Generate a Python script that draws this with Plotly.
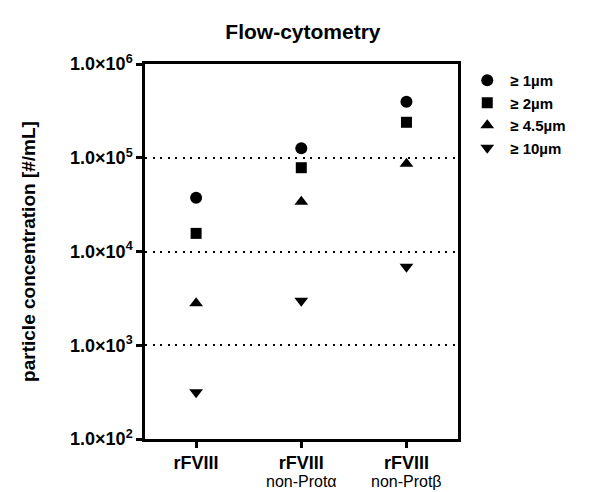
import plotly.graph_objects as go

# Samples and particle counts per size class (#/mL)
sample_names = ["rFVIII", "rFVIII", "rFVIII"]
sample_subtitles = ["", "non-Protα", "non-Protβ"]
ge_1um = [37500, 126000, 396000]
ge_2um = [15600, 78300, 239000]
ge_4_5um = [2800, 34000, 86400]
ge_10um = [315, 2990, 6890]

series = [
    ("≥ 1µm", ge_1um, "circle", 12),
    ("≥ 2µm", ge_2um, "square", 11),
    ("≥ 4.5µm", ge_4_5um, "triangle-up", 12),
    ("≥ 10µm", ge_10um, "triangle-down", 12),
]

y_ticks = [1e2, 1e3, 1e4, 1e5, 1e6]
y_ticktext = ["1.0×10<sup>2</sup>", "1.0×10<sup>3</sup>", "1.0×10<sup>4</sup>",
              "1.0×10<sup>5</sup>", "1.0×10<sup>6</sup>"]

FONT = "Liberation Sans, Arial, sans-serif"
positions = list(range(len(sample_names)))

fig = go.Figure()
for name, vals, symbol, size in series:
    fig.add_trace(go.Scatter(
        x=positions, y=vals, mode="markers", name=name,
        marker=dict(symbol=symbol, size=size, color="black", line=dict(width=0)),
    ))

# second line of each category label, placed under its tick
for pos, sub in zip(positions, sample_subtitles):
    if sub:
        fig.add_annotation(x=pos, xref="x", y=-0.113, yref="paper",
                           text=sub, showarrow=False, xanchor="center",
                           yanchor="middle", font=dict(size=16, family=FONT))

fig.update_layout(
    width=594, height=492,
    margin=dict(l=145, r=136, t=64, b=53, autoexpand=False),
    paper_bgcolor="white", plot_bgcolor="white",
    font=dict(family=FONT, color="black"),
    title=dict(text="<b>Flow-cytometry</b>", x=0.51, xanchor="center",
               y=0.935, yanchor="middle", font=dict(size=21, family=FONT)),
    showlegend=True,
    legend=dict(x=1.02, y=1.0, xanchor="left", yanchor="top",
                font=dict(size=15, family=FONT, weight="bold"),
                itemsizing="trace", tracegroupgap=0, bgcolor="rgba(0,0,0,0)",
                itemwidth=36),
)

fig.update_xaxes(
    range=[-0.486, 2.49], automargin=False,
    tickvals=positions, ticktext=[f"<b>{n}</b>" for n in sample_names],
    tickfont=dict(size=18, family=FONT),
    ticks="outside", ticklen=6, tickwidth=2.5, tickcolor="black",
    showline=True, linewidth=2.5, linecolor="black", mirror=True,
    showgrid=False, zeroline=False,
)
fig.update_yaxes(
    type="log", range=[2, 6], automargin=False,
    tickvals=y_ticks, ticktext=y_ticktext,
    tickfont=dict(size=18, family=FONT, weight="bold"),
    ticks="outside", ticklen=6, tickwidth=2.5, tickcolor="black",
    showline=True, linewidth=2.5, linecolor="black", mirror=True,
    showgrid=True, gridcolor="black", gridwidth=2, griddash="2px,5.5px",
    zeroline=False,
    title=dict(text="<b>particle concentration [#/mL]</b>", standoff=30,
               font=dict(size=19, family=FONT)),
)

fig.write_html("out.html")
